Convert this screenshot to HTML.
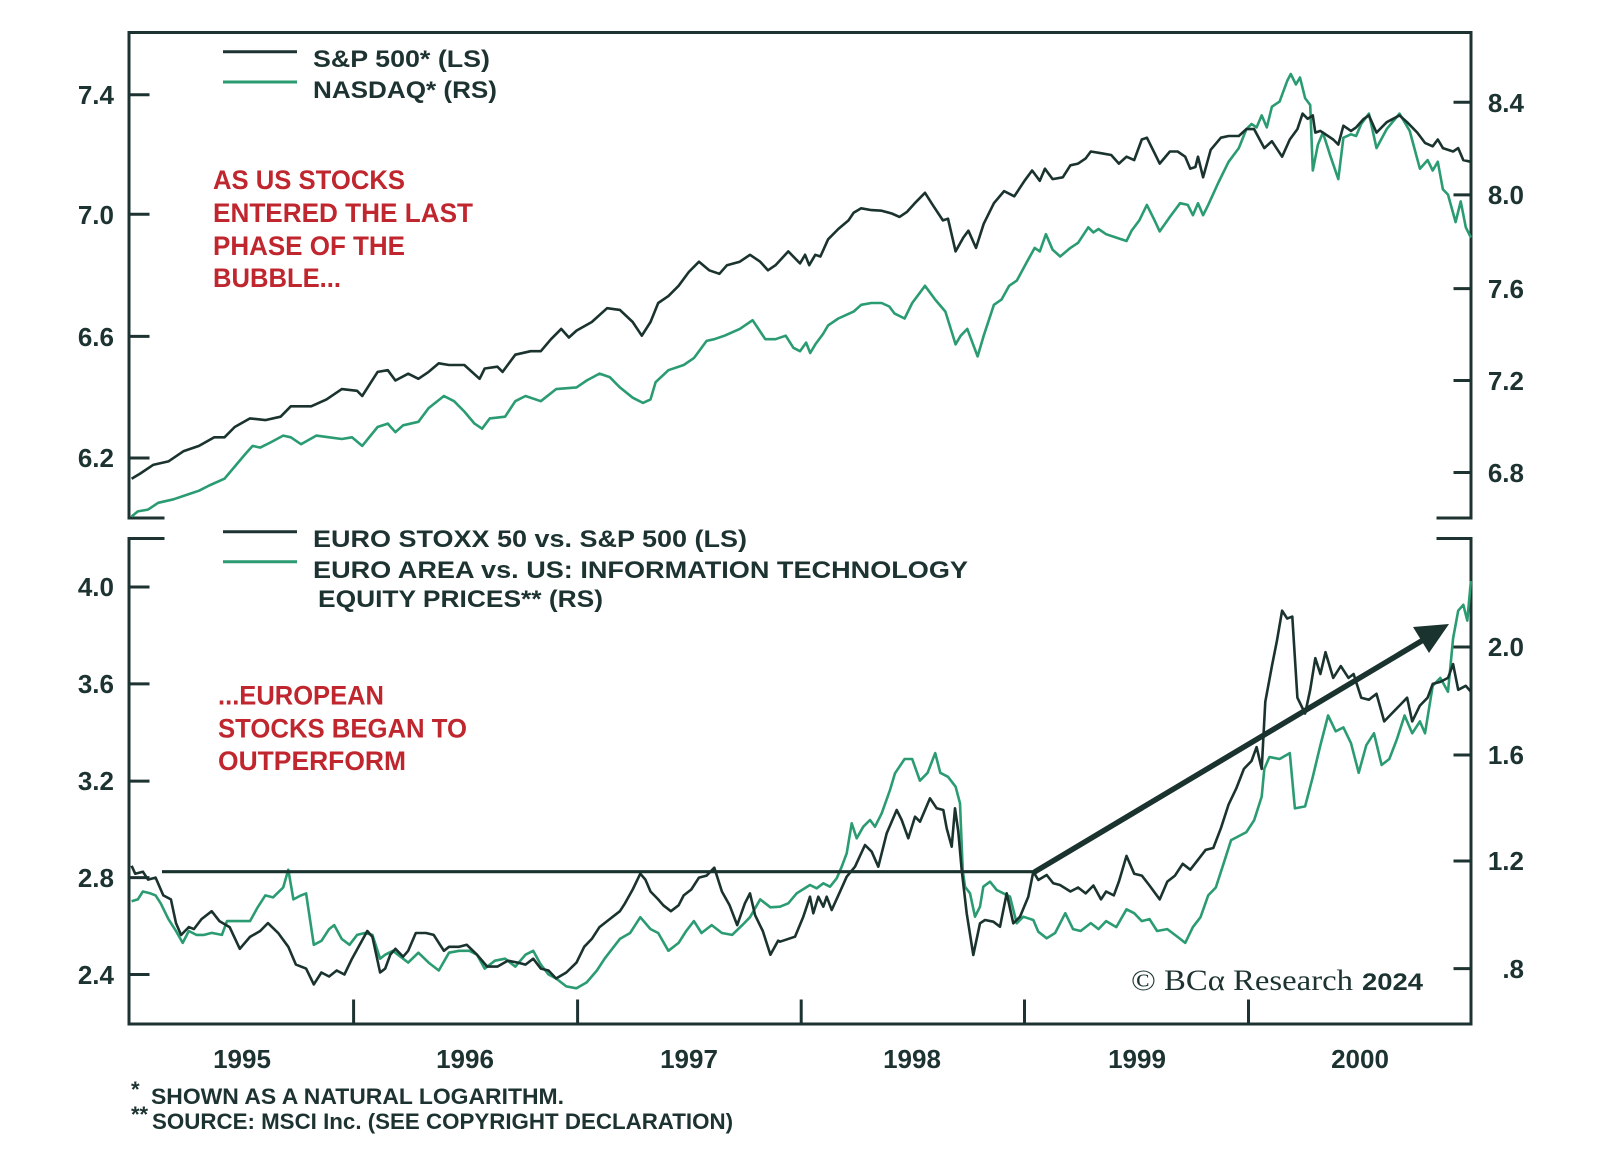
<!DOCTYPE html>
<html>
<head>
<meta charset="utf-8">
<style>
  html, body { margin: 0; padding: 0; background: #ffffff; }
  svg { display: block; }
  .ax { font-family: "Liberation Sans", sans-serif; font-weight: bold; font-size: 26px; fill: #1d3331; }
  .lg { font-family: "Liberation Sans", sans-serif; font-weight: bold; font-size: 24px; fill: #1d3331; }
  .rd { font-family: "Liberation Sans", sans-serif; font-weight: bold; font-size: 27px; fill: #c0262e; }
  .fn { font-family: "Liberation Sans", sans-serif; font-weight: bold; font-size: 22px; fill: #1d3331; }
</style>
</head>
<body>
<svg width="1600" height="1174" viewBox="0 0 1600 1174" xmlns="http://www.w3.org/2000/svg">
  <rect x="0" y="0" width="1600" height="1174" fill="#ffffff"/>

  <!-- ===== TOP PANEL FRAME ===== -->
  <g stroke="#1d3331" stroke-width="3" fill="none" stroke-linecap="square">
    <polyline points="129,518 129,32.5 1471,32.5 1471,518"/>
    <line x1="129" y1="518" x2="163" y2="518"/>
    <line x1="1438" y1="518" x2="1471" y2="518"/>
    <!-- left ticks -->
    <line x1="129" y1="94.7" x2="148" y2="94.7"/>
    <line x1="129" y1="214.2" x2="148" y2="214.2"/>
    <line x1="129" y1="336.4" x2="148" y2="336.4"/>
    <line x1="129" y1="458" x2="148" y2="458"/>
    <!-- right ticks -->
    <line x1="1455" y1="102.3" x2="1471" y2="102.3"/>
    <line x1="1455" y1="194.9" x2="1471" y2="194.9"/>
    <line x1="1455" y1="288.6" x2="1471" y2="288.6"/>
    <line x1="1455" y1="380.5" x2="1471" y2="380.5"/>
    <line x1="1455" y1="472.5" x2="1471" y2="472.5"/>
  </g>
  <g class="ax" text-anchor="end">
    <text x="114" y="104">7.4</text>
    <text x="114" y="224">7.0</text>
    <text x="114" y="346">6.6</text>
    <text x="114" y="467">6.2</text>
    <text x="1524" y="112">8.4</text>
    <text x="1524" y="204">8.0</text>
    <text x="1524" y="298">7.6</text>
    <text x="1524" y="390">7.2</text>
    <text x="1524" y="482">6.8</text>
  </g>

  <!-- top legend -->
  <line x1="223" y1="51.7" x2="297" y2="51.7" stroke="#1d3331" stroke-width="3"/>
  <line x1="223" y1="82" x2="297" y2="82" stroke="#2b9c72" stroke-width="3"/>
  <text class="lg" x="313" y="67" textLength="177" lengthAdjust="spacingAndGlyphs">S&amp;P 500* (LS)</text>
  <text class="lg" x="313" y="98" textLength="184" lengthAdjust="spacingAndGlyphs">NASDAQ* (RS)</text>

  <!-- top red annotation -->
  <text class="rd" x="213" y="189" textLength="192" lengthAdjust="spacingAndGlyphs">AS US STOCKS</text>
  <text class="rd" x="213" y="222" textLength="260" lengthAdjust="spacingAndGlyphs">ENTERED THE LAST</text>
  <text class="rd" x="213" y="255" textLength="192" lengthAdjust="spacingAndGlyphs">PHASE OF THE</text>
  <text class="rd" x="213" y="287" textLength="128" lengthAdjust="spacingAndGlyphs">BUBBLE...</text>

  <!-- top series: NASDAQ (green) -->
  <polyline fill="none" stroke="#2b9c72" stroke-width="2.6" stroke-linejoin="round" points="131.6,516.5 137.8,511.4 148,509.6 158.2,502.8 173.5,499.3 188.8,494.1 199,490.7 209.2,485.5 224.5,478.7 234.7,466.6 244.9,454.5 252.6,445.9 260.2,447.6 270.4,442.5 283.2,435.6 290.8,437.3 301,444.2 316.3,435.6 329.1,437.3 341.8,439 352,437.3 362.2,445.9 377.6,427 387.8,423.6 395.4,432.2 403.1,425.3 418.4,421.8 428.6,408.1 443.9,396 454.1,401.2 464.3,411.5 474.5,423.6 482.1,428.7 489.8,418.4 505.1,416.7 515.3,401.2 525.5,396 540.8,401.2 556.1,389.1 576.5,387.4 586.7,380.5 599.5,373.6 609.7,377.1 619.9,387.4 632.7,397.7 642.9,402.9 650.5,399.4 655.6,382.2 668.4,370.2 683.7,365 693.9,358.1 706.6,340.9 714.3,339.2 724.5,335.7 739.8,328.9 752.6,320.2 765.3,339.2 775.5,339.2 785.7,335.7 793.4,347.8 800,351.2 806.1,342.6 810.2,353 815.3,344.4 823,334 828.1,325.4 838.3,318.5 845.9,315.1 853.6,311.6 861.2,304.8 871.4,303 881.6,303 889.3,306.5 894.4,313.4 904.6,318.5 912.2,303 925,285.8 935.2,299.6 945.4,311.6 955.6,344.4 960.7,335.7 967.3,328.9 977.6,356.4 983.7,335.7 993.9,304.8 1001.5,299.6 1009.2,285.8 1016.8,280.6 1027,261.7 1034.7,247.9 1039.8,251.4 1045.9,234.2 1052.6,249.7 1060.2,256.5 1070.4,247.9 1078.1,242.8 1088.3,227.3 1093.4,232.4 1098.5,229 1106.1,234.2 1116.3,237.6 1126.5,241 1131.6,230.7 1139.3,220.4 1146.9,204.9 1154.6,220.4 1159.7,231.4 1169.9,216.9 1180.1,203.2 1187.8,204.9 1192.9,215.2 1198,203.2 1203.1,215.2 1208.2,204.9 1218.4,182.5 1228.6,161.8 1238.8,148.1 1246.4,129.1 1251.5,124 1256.6,127.4 1261.7,115.4 1266.8,127.4 1271.9,106.7 1279.6,101.6 1287.2,80.9 1290.8,74 1295.9,84.4 1300,77.5 1305.1,98.1 1310.2,105 1312.8,170.5 1317.9,144.6 1322.9,132.6 1330.6,156.7 1338.3,179.1 1343.4,137.7 1351,134.3 1356.1,136 1361.2,124 1368.9,113.6 1376.5,148.1 1386.7,129.1 1399.5,113.6 1409.7,130.9 1419.9,168.7 1427.6,160.1 1432.7,170.5 1437.8,161.8 1442.9,189.4 1448,194.6 1455.6,222.1 1460.7,201.4 1465.8,227.3 1470.9,237.6"/>

  <!-- top series: S&P 500 (dark) -->
  <polyline fill="none" stroke="#1a332f" stroke-width="2.6" stroke-linejoin="round" points="131.6,478.7 140.3,473.5 153.1,464.9 168.4,461.4 183.7,451.1 199,445.9 214.3,437.3 224.5,437.3 234.7,427 250,418.4 265.3,420.1 280.6,416.7 290.8,406.3 311.2,406.3 326.5,399.4 341.8,389.1 357.1,390.8 362.2,396 377.6,371.9 387.8,370.2 395.4,380.5 408.2,373.7 418.4,378.8 428.6,371.9 438.8,363.3 449,365 464.3,365 479.6,378.8 484.7,368.5 497.4,366.7 502.6,371.9 515.3,354.7 530.6,351.2 540.8,351.2 551,339.2 561.2,328.9 568.9,337.5 576.5,330.6 591.8,322 607.1,308.2 619.9,309.9 632.7,322 641.8,335.7 650.5,322 658.2,303 668.4,296.1 678.6,285.8 688.8,272 699,261.7 709.2,270.3 719.4,273.8 727,265.2 739.8,261.7 750,254.8 760.2,261.7 767.9,270.3 775.5,265.2 788.3,251.4 800,263.4 805.1,254.8 809.2,265.2 815.3,254.8 820.4,256.5 828.1,239.3 838.3,229 848.5,220.4 853.6,212.8 861.2,208.3 871.4,210.1 881.6,210.7 891.8,213.5 899.5,216.9 907.1,211.8 914.8,203.2 925,192.8 932.7,204.9 942.9,220.4 948,218.7 955.6,251.4 963.3,237.6 968.4,230.7 976,247.9 983.7,223.8 993.9,203.2 1004.1,191.1 1014.3,196.3 1024.5,180.8 1032.1,170.5 1039.8,180.8 1044.9,168.7 1052.6,179.1 1062.8,177.3 1070.4,165.3 1078.1,163.6 1085.7,158.4 1090.8,151.5 1101,153.2 1111.2,155 1118.9,163.6 1126.5,156.7 1134.2,160.1 1141.8,139.5 1146.9,137.7 1154.6,153.2 1159.7,163.6 1169.9,151.5 1177.6,151.5 1185.2,156.7 1190.3,168.7 1195.4,167 1198,156.7 1203.1,177.3 1210.7,149.8 1220.9,137.7 1228.6,136 1238.8,136 1246.4,129.1 1254.1,129.1 1264.3,148.1 1271.9,141.2 1282.1,156.7 1289.8,139.5 1297.4,129.1 1302.6,113.6 1307.7,118.8 1312.8,115.4 1315.3,132.6 1320.4,130.9 1325.5,134.3 1333.2,139.5 1338.3,144.6 1343.4,125.7 1351,130.9 1356.1,127.4 1363.8,118.8 1368.9,115.4 1376.5,132.6 1386.7,122.2 1399.5,115.4 1407.1,122.2 1417.3,132.6 1425,142.9 1432.7,146.3 1437.8,139.5 1442.9,148.1 1453.1,151.5 1458.2,148.1 1463.3,160.1 1470.9,161.8"/>

  <!-- ===== BOTTOM PANEL FRAME ===== -->
  <g stroke="#1d3331" stroke-width="3" fill="none" stroke-linecap="square">
    <line x1="129" y1="538.5" x2="163" y2="538.5"/>
    <line x1="1438" y1="538.5" x2="1471" y2="538.5"/>
    <polyline points="129,538.5 129,1024 1471,1024 1471,538.5"/>
    <!-- left ticks -->
    <line x1="129" y1="587" x2="148" y2="587"/>
    <line x1="129" y1="683.9" x2="148" y2="683.9"/>
    <line x1="129" y1="781.1" x2="148" y2="781.1"/>
    <line x1="129" y1="877.6" x2="148" y2="877.6"/>
    <line x1="129" y1="974.5" x2="148" y2="974.5"/>
    <!-- right ticks -->
    <line x1="1455" y1="647" x2="1471" y2="647"/>
    <line x1="1455" y1="755" x2="1471" y2="755"/>
    <line x1="1455" y1="861" x2="1471" y2="861"/>
    <line x1="1455" y1="968.6" x2="1471" y2="968.6"/>
    <!-- x ticks -->
    <line x1="353.6" y1="1001" x2="353.6" y2="1024"/>
    <line x1="577.6" y1="1001" x2="577.6" y2="1024"/>
    <line x1="801.2" y1="1001" x2="801.2" y2="1024"/>
    <line x1="1024.5" y1="1001" x2="1024.5" y2="1024"/>
    <line x1="1248.5" y1="1001" x2="1248.5" y2="1024"/>
  </g>
  <g class="ax" text-anchor="end">
    <text x="114" y="596">4.0</text>
    <text x="114" y="693">3.6</text>
    <text x="114" y="790">3.2</text>
    <text x="114" y="887">2.8</text>
    <text x="114" y="984">2.4</text>
    <text x="1524" y="656">2.0</text>
    <text x="1524" y="764">1.6</text>
    <text x="1524" y="870">1.2</text>
    <text x="1524" y="978">.8</text>
  </g>
  <g class="ax" text-anchor="middle">
    <text x="242" y="1068">1995</text>
    <text x="465" y="1068">1996</text>
    <text x="689" y="1068">1997</text>
    <text x="912" y="1068">1998</text>
    <text x="1137" y="1068">1999</text>
    <text x="1360" y="1068">2000</text>
  </g>

  <!-- bottom legend -->
  <line x1="223" y1="531.7" x2="297" y2="531.7" stroke="#1d3331" stroke-width="3"/>
  <line x1="223" y1="561.7" x2="297" y2="561.7" stroke="#2b9c72" stroke-width="3"/>
  <text class="lg" x="313" y="547" textLength="434" lengthAdjust="spacingAndGlyphs">EURO STOXX 50 vs. S&amp;P 500 (LS)</text>
  <text class="lg" x="313" y="578" textLength="655" lengthAdjust="spacingAndGlyphs">EURO AREA vs. US: INFORMATION TECHNOLOGY</text>
  <text class="lg" x="318" y="607" textLength="285" lengthAdjust="spacingAndGlyphs">EQUITY PRICES** (RS)</text>

  <!-- bottom red annotation -->
  <text class="rd" x="218" y="704.5" textLength="166" lengthAdjust="spacingAndGlyphs">...EUROPEAN</text>
  <text class="rd" x="218" y="737.5" textLength="249" lengthAdjust="spacingAndGlyphs">STOCKS BEGAN TO</text>
  <text class="rd" x="218" y="770" textLength="188" lengthAdjust="spacingAndGlyphs">OUTPERFORM</text>

  <!-- bottom series: IT relative (green) -->
  <polyline fill="none" stroke="#2b9c72" stroke-width="2.6" stroke-linejoin="round" points="131.6,901.3 137.8,899.4 142.9,891.5 150.5,893.4 155.6,895.4 160.7,903.3 168.4,919.1 176,931 182.7,942.9 188.8,931 196.4,934.9 204.1,934.9 211.7,932.9 221.9,934.9 227,921.1 239.8,921.1 250,921.1 257.7,907.3 265.3,895.4 273,897.4 283.2,887.5 288.3,869.7 293.4,899.4 301,895.4 306.1,893.4 313.8,944.8 321.4,940.9 329.1,929.1 334.2,925.1 341.8,939 349.5,944.8 357.1,934.9 364.8,933 372.4,934.9 380.1,958.7 385.2,954.7 392.9,950.8 400.5,956.7 408.2,962.6 418.4,952.7 428.6,962.6 438.8,970.5 449,952.7 459.2,950.8 469.4,950.8 477,954.7 484.7,968.6 494.9,960.7 505.1,958.7 515.3,966.6 525.5,954.7 533.2,950.8 540.8,964.6 548.5,974.5 556.1,978.5 566.3,986.4 576.5,988.3 586.7,982.4 596.9,970.5 604.6,958.7 612.2,948.8 619.9,938.9 630.1,933 640.3,917.2 650.5,929.1 658.2,933 668.4,950.8 678.6,942.9 686.2,931 693.9,921.1 701.5,933 711.7,925.1 721.9,933 732.1,934.9 742.3,925.1 750,917.2 760.2,899.4 770.4,907.3 780,906.7 788.3,903.3 796.7,893.3 810,885 816.7,888.3 823.3,883.3 830,886.7 836.7,878.3 841.7,866.7 846.7,853.3 851.7,823.3 856.7,838.3 863.3,826.7 870,820 875,826.7 881.7,813.3 890,790 895,773.3 904.6,759 912.2,759 919.9,780.7 927.6,772.8 935.2,753.1 940.3,772.8 948,776.8 955.6,786.7 960,803.3 962.7,870 965,886.7 970,893.3 975,916.7 980,906.7 983.3,886.7 990,881.7 996.7,890 1003.3,893.3 1010,896.7 1016.7,923.3 1023.3,916.7 1033.3,920 1038.3,931.7 1046.7,938.3 1055.1,933 1065.3,913.2 1073,929.1 1080.6,931 1090.8,923.1 1098.5,929.1 1106.1,921.1 1116.3,927.1 1126.5,909.3 1134.2,913.2 1141.8,921.1 1149.5,919.1 1157.1,931 1167.3,929.1 1177.6,936.9 1185.2,942.9 1192.9,927.1 1200.5,917.2 1208.2,895.4 1215.8,887.5 1223.5,863.8 1231.1,840.1 1238.8,836.1 1246.4,832.1 1254.1,820.3 1261.7,796.6 1264.3,768.9 1269.4,757 1279.6,759 1289.8,753.1 1294.9,808.4 1305.1,806.4 1312.8,776.8 1320.4,745.2 1328.1,715.5 1335.7,731.3 1343.4,727.4 1351,743.2 1358.7,772.8 1366.3,745.2 1374,733.3 1381.6,765 1389.3,759 1396.9,739.2 1404.6,715.5 1412.2,733.3 1419.9,721.4 1425,733.3 1432.7,685.8 1440.3,677.9 1448,691.8 1453.1,638.4 1458.2,610.7 1463.3,604.8 1467.3,620.6 1470.9,581"/>

  <!-- bottom series: Euro Stoxx vs S&P (dark) -->
  <polyline fill="none" stroke="#1a332f" stroke-width="2.6" stroke-linejoin="round" points="131.6,865.8 135.2,873.7 142.9,871.7 148,879.6 155.6,877.6 163.3,895.4 170.9,899.4 176,923.1 181.1,935 188.8,927.1 193.9,929.1 201.5,919.1 211.7,911.2 219.4,921.1 229.6,927.1 239.8,948.8 250,936.9 260.2,931 267.9,923.1 278.1,932.9 288.3,946.8 295.9,964.6 306.1,968.6 313.8,984.4 321.4,972.5 329.1,976.5 336.7,970.5 344.4,974.5 352,958.7 359.7,944.8 367.3,931 372.4,936.9 380.1,972.5 385.2,968.6 390.3,954.7 395.4,948.8 403.1,956.7 408.2,950.8 415.8,933 426,933 433.7,934.9 443.9,950.8 449,946.8 459.2,946.8 466.8,944.8 477,954.7 487.2,966.6 497.4,966.6 507.7,960.7 517.9,962.6 525.5,964.6 533.2,958.7 540.8,968.6 548.5,970.5 556.1,978.5 566.3,972.5 576.5,962.6 584.2,946.8 591.8,938.9 599.5,927.1 609.7,919.1 619.9,911.2 625,903.3 632.7,889.5 640.3,873.7 645.4,879.6 650.5,891.5 658.2,899.4 663.3,905.3 670.9,911.2 678.6,905.3 683.7,895.4 691.3,889.5 699,877.6 706.6,875.6 714.3,867.7 721.9,891.5 729.6,905.3 737.2,925.1 744.9,903.3 750,893.4 755.1,915.2 762.8,931 770.4,954.7 778.1,940.7 780,941.7 795,936.7 803.3,916.7 810,896.7 813.3,913.3 818.3,896.7 823.3,906.7 826.7,896.7 831.7,910 840,891.7 846.7,876.7 855,866.7 865,845 871.7,851.7 878.3,866.7 886.7,833.3 896.7,810 901.7,820 908.3,838.3 915,816.7 920,821.7 930,798.3 936.7,808.3 943.3,810 946.7,828.3 951.7,846.7 955,808.3 958.3,831.7 961.7,870 966.7,913.3 973.3,955 980,923.3 985,920 993.3,921.7 1000,926.7 1006.7,893.3 1013.3,923.3 1020,916.7 1028.3,896.7 1033.3,871.7 1038.3,880 1046.7,875 1053.3,883.3 1060,885 1070.4,891.5 1078.1,887.5 1085.7,893.4 1093.4,885.5 1101,899.4 1106.1,891.5 1113.8,895.4 1118.9,881.6 1126.5,855.9 1134.2,873.7 1141.8,875.6 1149.5,885.5 1159.7,899.4 1167.3,881.6 1175,875.6 1182.7,863.8 1190.3,869.7 1198,859.8 1205.6,849.9 1213.3,848 1220.9,828.2 1228.6,804.5 1236.2,788.6 1243.9,768.9 1251.5,761 1256.6,747.1 1261.7,768.9 1265.3,701.7 1271.9,666.1 1277,640.4 1282.1,610.7 1287.2,618.6 1292.3,616.6 1297.4,697.7 1305.1,713.5 1310.2,689.8 1315.3,658.2 1320.4,674 1325.5,652.2 1333.2,677.9 1340.8,666.1 1348.5,677.9 1353.6,674 1361.2,697.7 1368.9,699.7 1376.5,693.8 1384.2,721.4 1391.8,713.5 1399.5,705.6 1407.1,697.7 1412.2,721.4 1419.9,705.6 1427.6,697.7 1432.7,683.9 1440.3,681.9 1448,677.9 1453.1,664.1 1458.2,689.8 1465.8,685.8 1470.9,691.8"/>

  <!-- horizontal resistance line + arrow -->
  <line x1="162" y1="871.7" x2="1035" y2="871.7" stroke="#1a332f" stroke-width="3.2"/>
  <line x1="1035" y1="871.7" x2="1424" y2="639.5" stroke="#1a332f" stroke-width="5.5" stroke-linecap="round"/>
  <polygon points="1449,624 1429,653 1413,627" fill="#1a332f"/>

  <!-- copyright -->
  <text x="1131" y="990" font-family="'Liberation Serif', serif" font-size="30" fill="#1d3331" textLength="222" lengthAdjust="spacingAndGlyphs">© BCα Research</text>
  <text x="1362" y="990" font-family="'Liberation Sans', sans-serif" font-weight="bold" font-size="24" fill="#1d3331" textLength="61" lengthAdjust="spacingAndGlyphs">2024</text>

  <!-- footnotes -->
  <text class="fn" x="131" y="1097" font-size="16">*</text>
  <text class="fn" x="151" y="1104" textLength="413" lengthAdjust="spacingAndGlyphs">SHOWN AS A NATURAL LOGARITHM.</text>
  <text class="fn" x="131" y="1122" font-size="16">**</text>
  <text class="fn" x="152" y="1129" textLength="581" lengthAdjust="spacingAndGlyphs">SOURCE: MSCI Inc. (SEE COPYRIGHT DECLARATION)</text>
</svg>
</body>
</html>
